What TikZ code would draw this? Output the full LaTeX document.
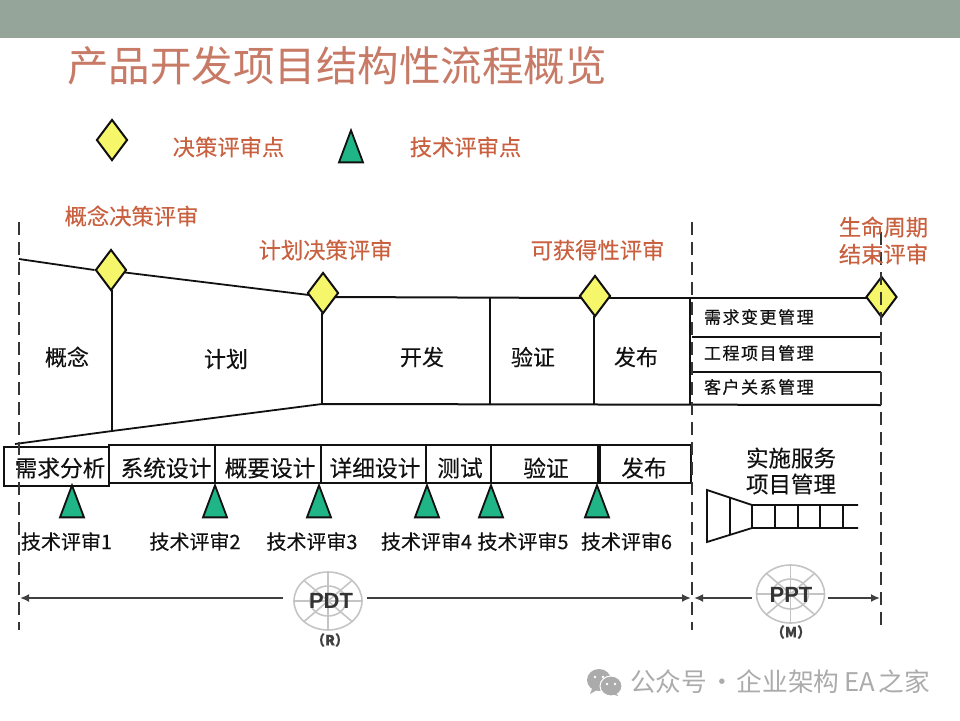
\documentclass[tikz,border=0pt]{standalone}
\usepackage{fontspec}
\setmainfont{Noto Sans CJK SC}[FakeBold=0.25]
\setsansfont{Liberation Sans}
\newfontfamily\plaincjk{Noto Sans CJK SC}
\newfontfamily\spacedcjk[LetterSpace=9,FakeBold=0.5]{Noto Sans CJK SC}
\usetikzlibrary{shapes.geometric,arrows.meta}
\definecolor{bandcol}{HTML}{95A59A}
\definecolor{titlecol}{HTML}{C77A66}
\definecolor{redlab}{HTML}{C9603F}
\definecolor{dia}{HTML}{F6F66B}
\definecolor{tri}{HTML}{1FB587}
\definecolor{ink}{HTML}{111111}
\definecolor{wheel}{HTML}{C4C4C4}
\definecolor{wm}{HTML}{ABABAB}
\definecolor{arrowcol}{HTML}{3F3F3F}
\tikzset{
  txt/.style={inner sep=0pt,outer sep=0pt,text=ink},
  redtxt/.style={txt,text=redlab,font=\fontsize{22.3}{27}\selectfont,align=center},
  phase/.style={txt,font=\fontsize{22}{27}\selectfont},
  celltxt/.style={txt,font=\fontsize{22.7}{27}\selectfont},
  rowtxt/.style={txt,anchor=west,font=\spacedcjk\fontsize{17}{20}\selectfont},
  techtxt/.style={txt,font=\fontsize{20}{24}\selectfont},
  gate/.style={diamond,draw=ink,fill=dia,line width=2pt,inner sep=0pt,minimum width=31pt,minimum height=41pt},
  tr/.style={isosceles triangle,isosceles triangle stretches,shape border rotate=90,draw=ink,fill=tri,line width=1.8pt,inner sep=0pt,minimum width=24pt,minimum height=32pt,anchor=apex},
  cell/.style={draw=ink,line width=2pt,inner sep=0pt,minimum height=38pt},
  ln/.style={draw=ink,line width=2pt},
  ln2/.style={draw=ink,line width=1.8pt},
  dashline/.style={draw=ink!85,line width=2pt,dash pattern=on 13pt off 7pt},
  span/.style={draw=arrowcol,line width=2pt,-{Latex[length=9pt,width=8pt]}},
  hub/.style={ellipse,draw=wheel,line width=1.6pt,inner sep=0pt,minimum width=68pt,minimum height=58pt},
  spoke/.style={draw=wheel,line width=1.6pt},
  hubtxt/.style={txt,text=black!80,font=\sffamily\bfseries\fontsize{22}{26}\selectfont},
  subtxt/.style={txt,text=arrowcol,font=\bfseries\fontsize{14}{16}\selectfont},
}
\begin{document}
\begin{tikzpicture}[x=1pt,y=-1pt]
\useasboundingbox (0,0) rectangle (960,720);
\fill[bandcol] (0,0) rectangle (960,38);
\node[txt,text=titlecol,anchor=west,font=\plaincjk\fontsize{41.5}{48}\selectfont] (title) at (67,66) {产品开发项目结构性流程概览};

% legend
\node[gate] (legd) at (112,140) {};
\node[redtxt] (legdt) at (228.5,147) {决策评审点};
\node[tr] (legt) at (351,128) {};
\node[redtxt] (legtt) at (465.5,147) {技术评审点};

% review labels
\node[redtxt] (l1) at (131.5,216) {概念决策评审};
\node[redtxt] (l2) at (325.5,250) {计划决策评审};
\node[redtxt] (l3) at (597.5,250) {可获得性评审};

% gates
\node[gate] (d1) at (111,270) {};
\node[gate] (d2) at (323,293) {};
\node[gate] (d3) at (595,296) {};
\node[gate] (d4) at (881.5,297) {};

% funnel frame
\coordinate (topL) at (19,259);
\coordinate (botL) at (15,444);
\coordinate (b1) at (112,431);
\coordinate (b2) at (322,404);
\coordinate (b3) at (490,405);
\coordinate (b4) at (594,405);
\coordinate (b5) at (690,405);
\coordinate (b6) at (881,405);
\coordinate (t3) at (490,298);
\coordinate (t5) at (690,298);
\coordinate (e1) at (125,272.5);
\coordinate (w2) at (309,295);
\coordinate (e2) at (335,297);
\coordinate (w3) at (582,298);
\coordinate (e3) at (608,298);
\coordinate (w4) at (868,298);
\coordinate (s1) at (112,290);
\coordinate (s2) at (322,313);
\coordinate (s3) at (594,316);
\draw[ln2] (topL) -- (d1.west);
\draw[ln2] (e1) -- (w2);
\draw[ln] (e2) -- (w3);
\draw[ln] (e3) -- (w4);
\draw[ln2] (s1) -- (b1);
\draw[ln2] (s2) -- (b2);
\draw[ln2] (t3) -- (b3);
\draw[ln2] (s3) -- (b4);
\draw[ln2] (t5) -- (b5);
\draw[ln2] (botL) -- (b1) -- (b2);
\draw[ln] (b2) -- (b6);

% phases
\node[phase] (pa) at (67,357) {概念};
\node[phase] (pb) at (226,359) {计划};
\node[phase] (pc) at (422,357) {开发};
\node[phase] (pd) at (533,357) {验证};
\node[phase] (pe) at (636,357) {发布};

% right rows
\coordinate (r1a) at (692,337); \coordinate (r1b) at (881,337);
\coordinate (r2a) at (692,372); \coordinate (r2b) at (881,372);
\draw[ln2] (r1a) -- (r1b);
\draw[ln2] (r2a) -- (r2b);
\node[rowtxt] (ra) at (704,317) {需求变更管理};
\node[rowtxt] (rb) at (704,353) {工程项目管理};
\node[rowtxt] (rc) at (704,387) {客户关系管理};

% activity bar
\node[cell,minimum width=106pt] (c2) at (162,464) {};
\node[cell,minimum width=106pt] (c3) at (268,464) {};
\node[cell,minimum width=105pt] (c4) at (373.5,464) {};
\node[cell,minimum width=65pt] (c5) at (458.5,464) {};
\node[cell,minimum width=107pt] (c6) at (544.5,464) {};
\node[cell,minimum width=93pt] (c7) at (644.5,464) {};
\node[cell,line width=2.4pt,fill=white,minimum width=105pt,minimum height=39pt] (c1) at (56.5,466.5) {};
\draw[ink,line width=4pt] (c6.north east) -- (c6.south east);
\node[celltxt] (ct1) at (60,468) {需求分析};
\node[celltxt] (ct2) at (166,468) {系统设计};
\node[celltxt] (ct3) at (270,468) {概要设计};
\node[celltxt] (ct4) at (375,468) {详细设计};
\node[celltxt] (ct5) at (460,468) {测试};
\node[celltxt] (ct6) at (546,468) {验证};
\node[celltxt] (ct7) at (644,468) {发布};

% technical reviews
\node[tr] (t1) at (72,483) {};
\node[tr] (t2) at (215,483) {};
\node[tr] (t3n) at (319,483) {};
\node[tr] (t4) at (427,483) {};
\node[tr] (t5n) at (491,483) {};
\node[tr] (t6) at (597,483) {};
\node[techtxt] (tt1) at (66.5,541.5) {技术评审1};
\node[techtxt] (tt2) at (195,541.5) {技术评审2};
\node[techtxt] (tt3) at (312,541.5) {技术评审3};
\node[techtxt] (tt4) at (426.5,541.5) {技术评审4};
\node[techtxt] (tt5) at (523,541.5) {技术评审5};
\node[techtxt] (tt6) at (626.5,541.5) {技术评审6};

% service side
\node[txt,align=center,font=\fontsize{22.5}{26}\selectfont] (svc) at (791,471) {实施服务\\项目管理};
\coordinate (f1) at (707,490); \coordinate (f2) at (752,505);
\coordinate (f3) at (752,528); \coordinate (f4) at (707,542);
\coordinate (f5) at (858,505); \coordinate (f6) at (858,528);
\draw[ln2] (f5) -- (f2) -- (f1) -- (f4) -- (f3) -- (f6);
\draw[ln2] (f2) -- (f3);
\draw[ln2] (730,498) -- (730,534);
\draw[ln2] (775,505) -- (775,528);
\draw[ln2] (798,505) -- (798,528);
\draw[ln2] (820,505) -- (820,528);
\draw[ln2] (843,505) -- (843,528);

% dashed boundaries
\coordinate (da) at (19,222); \coordinate (db) at (19,630);
\coordinate (dc) at (692,222); \coordinate (dd) at (692,630);
\coordinate (de) at (881,232); \coordinate (df) at (881,630);
\draw[dashline] (da) -- (db);
\draw[dashline] (dc) -- (dd);
\draw[dashline] (de) -- (df);
\node[redtxt] (l4) at (883.5,240.5) {生命周期\\结束评审};

% wheels
\foreach \n/\cx/\cy in {pdt/328/601,ppt/790.5/594}{
  \node[hub] (\n) at (\cx,\cy) {};
  \draw[wheel,line width=1.6pt] (\cx,\cy) ellipse (18pt and 15pt);
  \draw[spoke] (\n.north) -- (\n.south);
  \draw[spoke] (\n.west) -- (\n.east);
  \draw[spoke] (\n.north west) -- (\n.south east);
  \draw[spoke] (\n.north east) -- (\n.south west);
}
\node[hubtxt] (pdtt) at (331,601) {PDT};
\node[subtxt] (pdts) at (330,640) {（R）};
\node[hubtxt] (pptt) at (791,595) {PPT};
\node[subtxt] (ppts) at (791,632) {（M）};
\coordinate (a1) at (20,598); \coordinate (a1s) at (283,598);
\coordinate (a2) at (691,598); \coordinate (a2s) at (367,598);
\coordinate (a3) at (694,598); \coordinate (a3s) at (752,598);
\coordinate (a4) at (880,598); \coordinate (a4s) at (828,598);
\draw[span] (a1s) -- (a1);
\draw[span] (a2s) -- (a2);
\draw[span] (a3s) -- (a3);
\draw[span] (a4s) -- (a4);

% watermark
\fill[wm] (599,680) ellipse (12pt and 11pt);
\fill[wm] (592,689) -- (590,694) -- (597,690) -- cycle;
\draw[white,fill=wm,line width=1pt] (611,686) ellipse (11pt and 10pt);
\fill[wm] (616,693) -- (618,696) -- (612,694) -- cycle;
\fill[white] (595,677) circle (1.3pt) (603,677) circle (1.3pt) (607,684) circle (1.3pt) (615,684) circle (1.3pt);
\node[txt,text=wm,anchor=west,font=\plaincjk\fontsize{25.7}{30}\selectfont] (wmt) at (630,682) {公众号\hspace{2pt}·\hspace{2pt}企业架构\hspace{5pt}EA\hspace{3pt}之家};
\end{tikzpicture}
\end{document}
